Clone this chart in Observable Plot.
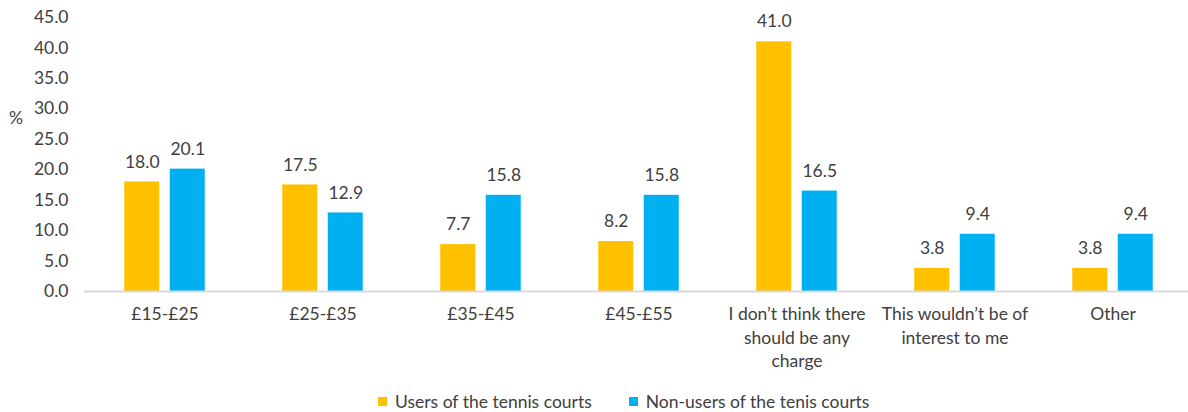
<!DOCTYPE html>
<html>
<head>
<meta charset="utf-8">
<script src="https://cdn.jsdelivr.net/npm/d3@7"></script>
<script src="https://cdn.jsdelivr.net/npm/@observablehq/plot@0.6"></script>
<style>
  html, body { margin: 0; padding: 0; background: #fff; }
  body { position: relative; width: 1188px; height: 412px; overflow: hidden; font-family: Lato, "Open Sans", sans-serif; color: #404040; }
  #chart svg { display: block; }
  #unit { position: absolute; left: 9px; top: 107px; font-size: 17.5px; }
  #legend { position: absolute; left: 378px; top: 391px; display: flex; align-items: center; font-size: 17.5px; }
  #legend .item { display: flex; align-items: center; margin-right: 37px; }
  #legend .sw { width: 9px; height: 9px; margin-right: 8px; }
</style>
</head>
<body>
<div id="chart"></div>
<div id="unit">%</div>
<div id="legend"></div>
<script>
const categories = [
  "£15-£25",
  "£25-£35",
  "£35-£45",
  "£45-£55",
  "I don’t think there\nshould be any\ncharge",
  "This wouldn’t be of\ninterest to me",
  "Other"
];
const users = [18.0, 17.5, 7.7, 8.2, 41.0, 3.8, 3.8];
const nonUsers = [20.1, 12.9, 15.8, 15.8, 16.5, 9.4, 9.4];
const seriesNames = ["Users of the tennis courts", "Non-users of the tenis courts"];
const seriesColors = ["#FFC000", "#00B0F0"];
const yTicks = [0, 5, 10, 15, 20, 25, 30, 35, 40, 45];

const usersRows = categories.map((c, i) => ({cat: c, value: users[i]}));
const nonRows = categories.map((c, i) => ({cat: c, value: nonUsers[i]}));

const chart = Plot.plot({
  width: 1188,
  height: 385,
  marginLeft: 84,
  marginRight: 0,
  marginTop: 17,
  marginBottom: 94,
  style: {fontFamily: "Lato, 'Open Sans', sans-serif", fontSize: "17.5px", color: "#404040", background: "#fff"},
  x: {domain: categories, range: [84, 1194], paddingInner: 0.776, paddingOuter: 0.388, axis: null},
  y: {domain: [0, 45], range: [291, 17], axis: null},
  marks: [
    Plot.barY(usersRows, {x: "cat", y: "value", fill: seriesColors[0], dx: -22.75}),
    Plot.barY(nonRows, {x: "cat", y: "value", fill: seriesColors[1], dx: 22.75}),
    Plot.ruleY([0], {stroke: "#D9D9D9", strokeWidth: 2}),
    Plot.text(usersRows, {x: "cat", y: "value", text: d => d.value.toFixed(1), dx: -22.75, dy: -20, fill: "#404040"}),
    Plot.text(nonRows, {x: "cat", y: "value", text: d => d.value.toFixed(1), dx: 22.75, dy: -20, fill: "#404040"}),
    Plot.axisY({ticks: yTicks, tickFormat: d => d.toFixed(1), tickSize: 0, tickPadding: 16, label: null, fill: "#404040"}),
    Plot.text(categories, {x: d => d, text: d => d, frameAnchor: "bottom", lineAnchor: "top", dy: 12, lineHeight: 1.34, fill: "#404040"})
  ]
});
document.getElementById("chart").append(chart);

const legend = document.getElementById("legend");
seriesNames.forEach((name, i) => {
  const item = document.createElement("div");
  item.className = "item";
  const sw = document.createElement("div");
  sw.className = "sw";
  sw.style.background = seriesColors[i];
  const label = document.createElement("span");
  label.textContent = name;
  item.append(sw, label);
  legend.append(item);
});
</script>
</body>
</html>
